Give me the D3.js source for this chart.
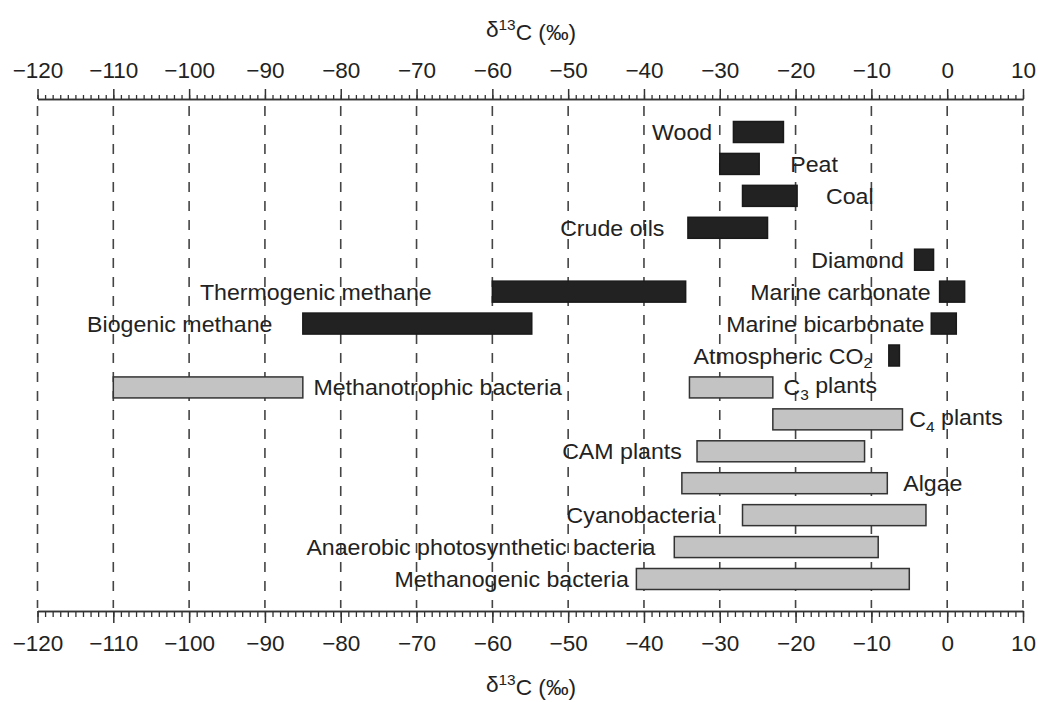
<!DOCTYPE html>
<html>
<head>
<meta charset="utf-8">
<script src="https://cdn.jsdelivr.net/npm/d3@7"></script>
<style>
    body { margin: 0; background: white; }
    text { font-family: "Liberation Sans", Arial, Helvetica, sans-serif; fill: #222; }
</style>
</head>
<body>
<svg id="chart" width="1038" height="702"></svg>
<script>
// sources, ranges of d13C (per mil)
const names = ["Wood", "Peat", "Coal", "Crude oils", "Diamond", "Marine carbonate", "Thermogenic methane",
    "Marine bicarbonate", "Biogenic methane", "Atmospheric CO_2", "Methanotrophic bacteria", "C_3 plants",
    "C_4 plants", "CAM plants", "Algae", "Cyanobacteria", "Anaerobic photosynthetic bacteria", "Methanogenic bacteria"];
const rows = [0, 1, 2, 3, 4, 5, 5, 6, 6, 7, 8, 8, 9, 10, 11, 12, 13, 14];
const lows = [-28.2, -30, -27, -34.2, -4.3, -1, -60, -2.1, -85, -7.7, -110, -34, -23, -33, -35, -27, -36, -41];
const highs = [-21.6, -24.8, -19.8, -23.7, -1.8, 2.3, -34.5, 1.2, -54.8, -6.3, -85, -23, -5.9, -10.9, -7.9, -2.8, -9.1, -5];
const kinds = ["dark", "dark", "dark", "dark", "dark", "dark", "dark", "dark", "dark", "dark",
    "light", "light", "light", "light", "light", "light", "light", "light"];
// where the label is anchored (per mil) and which side of it
const labelAt = [-31, -20.7, -16, -37.3, -5.7, -2.2, -68, -3, -89, -9.9, -83.6, -21.6, -5, -35, -5.8, -30.5, -38.5, -42];
const labelSide = ["end", "start", "start", "end", "end", "end", "end", "end", "end", "end",
    "start", "start", "start", "end", "start", "end", "end", "end"];

const majorTicks = d3.range(-120, 11, 10);
const minorTicks = d3.range(-120, 11, 1);

const largeur = 1038,
    hauteur = 702,
    stretch = 1.03;

const svgSpace = d3.select("#chart");

const x = d3.scaleLinear().domain([-120, 10]).range([37.5, 1023]);
const y = d3.scaleLinear().domain([0, 14]).range([132, 579]);
const barH = 21;
const topY = 99,
    bottomY = 611;

// dashed grid
svgSpace.append("g")
    .selectAll("line")
    .data(majorTicks)
    .enter()
    .append("line")
    .attr("x1", (d) => x(d))
    .attr("x2", (d) => x(d))
    .attr("y1", topY + 7)
    .attr("y2", bottomY - 3)
    .attr("stroke", "#444")
    .attr("stroke-width", 1.6)
    .attr("stroke-dasharray", "10,9");

// axes: minor ticks then major ticks with labels
function drawAxis(axisFn, yPos, minorSize, majorSize, pad) {
    svgSpace.append("g")
        .attr("transform", "translate(0," + yPos + ")")
        .call(axisFn(x).tickValues(minorTicks).tickSize(minorSize).tickSizeOuter(0).tickFormat(""))
        .call((g) => g.selectAll("line, path").attr("stroke", "#333").attr("stroke-width", 1.3));

    const ax = svgSpace.append("g")
        .attr("transform", "translate(0," + yPos + ")")
        .call(axisFn(x).tickValues(majorTicks).tickSize(majorSize).tickSizeOuter(0).tickPadding(pad)
            .tickFormat((d) => d3.format("")(d).replace("-", "\u2212")));
    ax.selectAll("line, path").attr("stroke", "#333").attr("stroke-width", 1.5);
    ax.selectAll("text")
        .attr("fill", "#222")
        .style("font-size", "22.5px")
        .style("font-family", "Liberation Sans, Arial, sans-serif");
}

drawAxis(d3.axisTop, topY, 4, 10, 11);
drawAxis(d3.axisBottom, bottomY, 6, 12, 12);

// titles
function addTitle(yPos) {
    const t = svgSpace.append("text")
        .attr("transform", "translate(" + 531 + "," + yPos + ") scale(" + stretch + ",1)")
        .style("text-anchor", "middle")
        .style("font-size", "22px");
    t.append("tspan").text("\u03b4");
    t.append("tspan").text("13").attr("dy", "-0.45em").style("font-size", "15px");
    t.append("tspan").text("C (\u2030)").attr("dy", "0.45em");
}
addTitle(37);
addTitle(692);

// bars
const items = names.map((n, i) => ({ name: n, row: rows[i], lo: lows[i], hi: highs[i], kind: kinds[i], at: labelAt[i], side: labelSide[i] }));

svgSpace.append("g")
    .selectAll("rect")
    .data(items)
    .enter()
    .append("rect")
    .attr("x", (d) => x(d.lo))
    .attr("y", (d) => y(d.row) - barH / 2)
    .attr("width", (d) => x(d.hi) - x(d.lo))
    .attr("height", barH)
    .attr("fill", (d) => d.kind == "dark" ? "#222" : "#c3c3c3")
    .attr("stroke", (d) => d.kind == "dark" ? "#1a1a1a" : "#333")
    .attr("stroke-width", 1.5);

// labels, "_" marks a one-character subscript
const labels = svgSpace.append("g")
    .selectAll("text")
    .data(items)
    .enter()
    .append("text")
    .attr("transform", (d) => "translate(" + x(d.at) + "," + (y(d.row) + 8) + ") scale(" + stretch + ",1)")
    .style("text-anchor", (d) => d.side)
    .style("font-size", "22.5px");

labels.each(function (d) {
    const el = d3.select(this);
    const parts = d.name.split("_");
    el.append("tspan").text(parts[0]);
    if (parts.length > 1) {
        el.append("tspan").text(parts[1][0]).attr("dy", "0.3em").style("font-size", "15px");
        el.append("tspan").text(parts[1].slice(1)).attr("dy", "-0.3em");
    }
});
</script>
</body>
</html>
